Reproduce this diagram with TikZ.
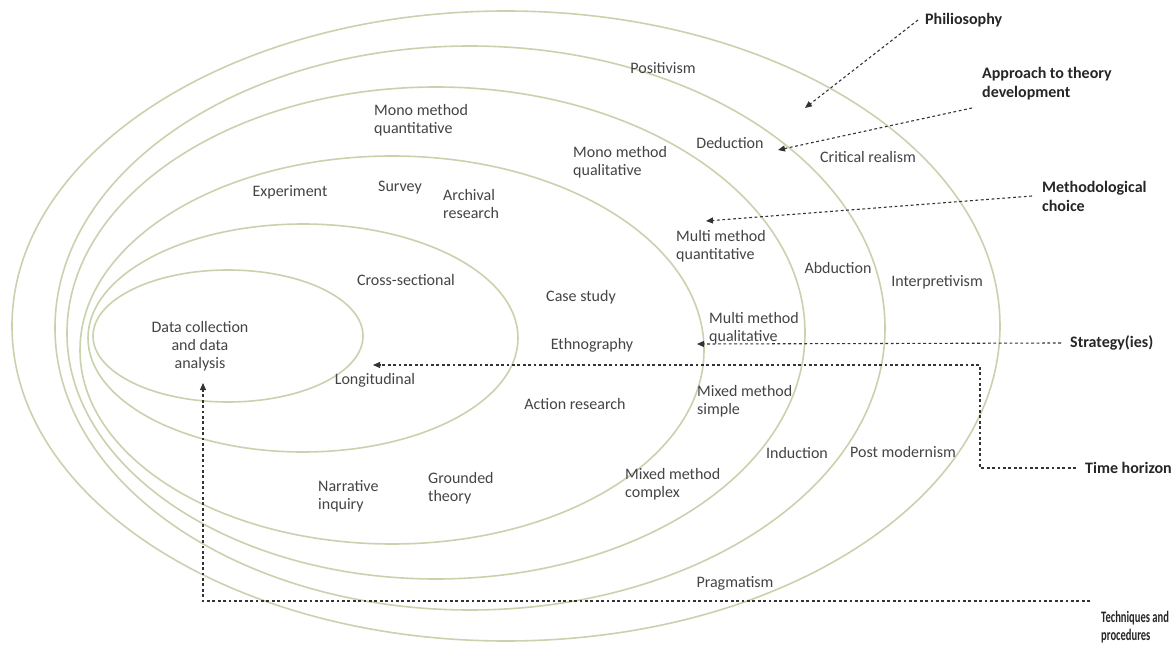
\documentclass[tikz,border=0pt]{standalone}
\usepackage{fontspec}
\setmainfont{Carlito}
\usetikzlibrary{arrows.meta}
\definecolor{onion}{RGB}{200,211,174}
\definecolor{labelgray}{RGB}{68,68,68}
\tikzset{
  layer/.style={draw=onion, line width=1.6pt},
  lbl/.style={font=\fontsize{16}{18}\selectfont, text=labelgray, inner sep=0pt, align=left},
  lblw/.style={lbl, anchor=west},
  lblc/.style={lbl, align=center},
  tag/.style={font=\fontsize{16}{19}\selectfont\bfseries, text=black!85, inner sep=0pt, align=left, anchor=west},
  pointer/.style={draw=black!80, line width=1.1pt, dash pattern=on 2.8pt off 2.6pt,
                  -{Triangle[length=7pt,width=6pt]}}
}
\begin{document}
\begin{tikzpicture}[x=1pt,y=-1pt]
\useasboundingbox (0,0) rectangle (1176,647);
\fill[white] (0,0) rectangle (1176,647);

% the six layers of the onion, outermost first
\draw[layer] (506,326) ellipse [x radius=494pt, y radius=315pt];
\draw[layer] (470,328) ellipse [x radius=415pt, y radius=282pt];
\draw[layer] (436,333) ellipse [x radius=369pt, y radius=246pt];
\draw[layer] (392,350) ellipse [x radius=312pt, y radius=194pt];
\draw[layer] (303,338) ellipse [x radius=215pt, y radius=114pt];
\draw[layer] (228,336) ellipse [x radius=135pt, y radius=66pt];

% philosophy layer
\node[lbl] (positivism) at (663,68) {Positivism};
\node[lbl] (critical) at (868,157) {Critical realism};
\node[lbl] (interpret) at (937,282) {Interpretivism};
\node[lbl] (postmod) at (903,452) {Post modernism};
\node[lbl] (pragmatism) at (735,583) {Pragmatism};

% approach to theory development
\node[lbl] (deduction) at (730,143) {Deduction};
\node[lbl] (abduction) at (838,268) {Abduction};
\node[lbl] (induction) at (797,453) {Induction};

% methodological choice
\node[lblw] (monoquan) at (374,120) {Mono method\\quantitative};
\node[lblw] (monoqual) at (573,162) {Mono method\\qualitative};
\node[lblw] (multiquan) at (676,246) {Multi method\\quantitative};
\node[lblw] (multiqual) at (709,328) {Multi method\\qualitative};
\node[lblw] (mixsimple) at (697,401) {Mixed method\\simple};
\node[lblw] (mixcomplex) at (625,484) {Mixed method\\complex};

% strategies
\node[lbl] (experiment) at (290,192) {Experiment};
\node[lbl] (survey) at (400,188) {Survey};
\node[lblw] (archival) at (443,204) {Archival\\research};
\node[lbl] (casestudy) at (581,297) {Case study};
\node[lbl] (ethno) at (592,345) {Ethnography};
\node[lbl] (action) at (575,404) {Action research};
\node[lblw] (narrative) at (318,496) {Narrative\\inquiry};
\node[lblw] (grounded) at (428,488) {Grounded\\theory};

% time horizon
\node[lbl] (cross) at (406,280) {Cross-sectional};
\node[lbl] (longit) at (375,380) {Longitudinal};

% core
\node[lblc] (core) at (200,346) {Data collection\\and data\\analysis};

% layer names
\node[tag] (phil) at (925,20) {Philiosophy};
\node[tag] (appr) at (982,84) {Approach to theory\\development};
\node[tag] (meth) at (1042,196) {Methodological\\choice};
\node[tag] (strat) at (1070,343) {Strategy(ies)};
\node[tag] (time) at (1085,468) {Time horizon};
\node[tag] (tech) at (1101,628) {\scalebox{0.66}[1]{\fontsize{16}{19}\selectfont\bfseries
  \begin{tabular}{@{}l@{}}Techniques and\\[-1pt]procedures\end{tabular}}};

% pointers from the layer names into the onion
\coordinate (philTip) at (805,108);
\coordinate (apprStart) at (972,108);
\coordinate (apprTip) at (778,150);
\coordinate (methTip) at (706,221);
\coordinate (stratTip) at (697,344);
\coordinate (timeBend) at (980,365);
\coordinate (timeTip) at (373,365);
\coordinate (techStart) at (1090,601);
\coordinate (techBend) at (203,601);
\coordinate (techTip) at (203,383);

\draw[pointer] ([xshift=-7pt]phil.west) -- (philTip);
\draw[pointer] (apprStart) -- (apprTip);
\draw[pointer] ([xshift=-10pt]meth.west) -- (methTip);
\draw[pointer] ([xshift=-9pt]strat.west) -- (stratTip);
\draw[pointer] ([xshift=-9pt]time.west) -| (timeBend) -- (timeTip);
\draw[pointer] (techStart) -- (techBend) -- (techTip);
\end{tikzpicture}
\end{document}
